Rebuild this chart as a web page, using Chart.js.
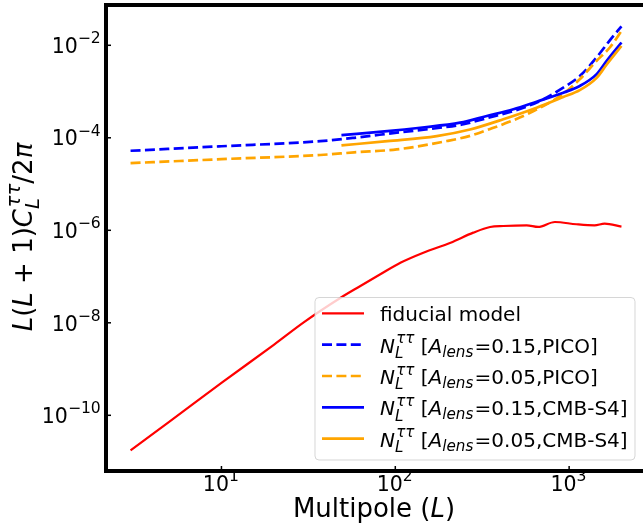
<!DOCTYPE html>
<html>
<head>
<meta charset="utf-8">
<script src="https://cdn.jsdelivr.net/npm/chart.js@4.4.0/dist/chart.umd.min.js"></script>
<style>
  html, body { margin: 0; padding: 0; overflow: hidden; background: #fff; }
  canvas { display: block; }
</style>
</head>
<body>
<canvas id="chart" width="650" height="528"></canvas>
<script>
// Values (multipole L, L(L+1)C_L/2pi)
const fidL = [3, 5, 10, 20, 30, 48, 63, 82, 107, 145, 208, 281, 351, 418, 570, 664, 828, 1100, 1400, 1600, 2000];
const fidVals = [1.75e-11, 7.2e-11, 5.0e-10, 3.35e-9, 1.05e-8, 3.4e-8, 6.25e-8, 1.12e-7, 1.99e-7, 3.28e-7,
  5.4e-7, 8.9e-7, 1.18e-6, 1.24e-6, 1.28e-6, 1.18e-6, 1.51e-6, 1.35e-6, 1.28e-6, 1.39e-6, 1.20e-6];

const picoL015 = [3, 10, 37, 58, 102, 181, 247, 336, 478, 679, 925, 1151, 1435, 1714, 2000];
const pico015 = [5.24e-5, 6.56e-5, 8.47e-5, 1.0e-4, 1.29e-4, 1.65e-4, 1.96e-4, 2.66e-4, 3.79e-4,
  6.24e-4, 1.21e-3, 2.16e-3, 5.40e-3, 1.28e-2, 2.57e-2];
const picoL005 = [3, 10, 37, 58, 102, 198, 269, 351, 457, 596, 925, 1151, 1435, 1714, 2000];
const pico005 = [2.83e-5, 3.45e-5, 4.25e-5, 4.84e-5, 5.61e-5, 8.51e-5, 1.10e-4, 1.55e-4, 2.24e-4,
  3.47e-4, 8.9e-4, 1.84e-3, 4.57e-3, 8.95e-3, 2.04e-2];

const s4L015 = [49, 90, 139, 236, 336, 478, 650, 925, 1151, 1435, 1641, 2000];
const s4015 = [1.14e-4, 1.39e-4, 1.65e-4, 2.12e-4, 2.96e-4, 4.13e-4, 6.04e-4, 9.44e-4, 1.32e-3, 2.35e-3, 4.57e-3, 1.15e-2];
const s4L005 = [49, 90, 173, 269, 418, 650, 925, 1151, 1435, 1641, 2000];
const s4005 = [6.84e-5, 8.47e-5, 1.09e-4, 1.51e-4, 2.51e-4, 4.46e-4, 7.59e-4, 1.07e-3, 1.95e-3, 3.80e-3, 9.66e-3];

// Decade ticks and their labels (base, exponent)
const xTicks = [10, 100, 1000];
const xTickLabels = [['10', '1'], ['10', '2'], ['10', '3']];
const yTicks = [1e-2, 1e-4, 1e-6, 1e-8, 1e-10];
const yTickLabels = [['10', '\u22122'], ['10', '\u22124'], ['10', '\u22126'], ['10', '\u22128'], ['10', '\u221210']];

const FONT = "'DejaVu Sans', sans-serif";
const DASH = [10, 4.4];
const SCRIPT = 0.76; // script size relative to base text

const pts = (xs, ys) => xs.map((x, i) => ({ x: x, y: ys[i] }));

// Label in matplotlib mathtext style: N_L^{tt} [A_lens=...]
const nLabel = (a, exp) => [
  { t: 'N', it: true }, { sup: '\u03c4\u03c4', sub: 'L', it: true },
  { t: ' [' }, { t: 'A', it: true }, { sub: 'lens', it: true },
  { t: '=' + a + ',' + exp + ']' }
];

const legendItems = [
  [{ t: 'fiducial model' }],
  nLabel('0.15', 'PICO'),
  nLabel('0.05', 'PICO'),
  nLabel('0.15', 'CMB-S4'),
  nLabel('0.05', 'CMB-S4')
];

function fontFor(size, italic) {
  return (italic ? 'italic ' : '') + size + 'px ' + FONT;
}

function partWidth(ctx, p, size) {
  if (p.t !== undefined) {
    ctx.font = fontFor(size, p.it);
    return ctx.measureText(p.t).width;
  }
  ctx.font = fontFor(size * SCRIPT, p.it);
  let w = 0;
  if (p.sup) w = Math.max(w, ctx.measureText(p.sup).width);
  if (p.sub) w = Math.max(w, ctx.measureText(p.sub).width);
  return w + size * 0.06;
}

function richWidth(ctx, parts, size) {
  return parts.reduce((w, p) => w + partWidth(ctx, p, size), 0);
}

function drawRich(ctx, parts, x, y, size, align) {
  let cx = x;
  if (align === 'center') cx -= richWidth(ctx, parts, size) / 2;
  if (align === 'right') cx -= richWidth(ctx, parts, size);
  ctx.textAlign = 'left';
  ctx.textBaseline = 'alphabetic';
  parts.forEach(p => {
    const w = partWidth(ctx, p, size);
    if (p.t !== undefined) {
      ctx.font = fontFor(size, p.it);
      ctx.fillText(p.t, cx, y);
    } else {
      ctx.font = fontFor(size * SCRIPT, p.it);
      if (p.sup) ctx.fillText(p.sup, cx + (p.it ? size * 0.06 : 0), y - size * 0.47);
      if (p.sub) ctx.fillText(p.sub, cx, y + size * (p.sup ? 0.26 : 0.2));
    }
    cx += w;
  });
}

// Frame, inward ticks, tick labels, axis titles and legend
const decorPlugin = {
  id: 'decor',
  afterDraw(chart) {
    const ctx = chart.ctx;
    const area = chart.chartArea;
    const xs = chart.scales.x;
    const ys = chart.scales.y;
    ctx.save();
    ctx.fillStyle = '#000';
    ctx.strokeStyle = '#000';

    // ticks
    ctx.lineWidth = 1.5;
    xTicks.forEach((v, i) => {
      const px = xs.getPixelForValue(v);
      ctx.beginPath();
      ctx.moveTo(px, area.bottom);
      ctx.lineTo(px, area.bottom - 5);
      ctx.stroke();
      drawRich(ctx, [{ t: xTickLabels[i][0] }, { sup: xTickLabels[i][1] }], px, area.bottom + 20, 20.5, 'center');
    });
    yTicks.forEach((v, i) => {
      const py = ys.getPixelForValue(v);
      ctx.beginPath();
      ctx.moveTo(area.left, py);
      ctx.lineTo(area.left + 5, py);
      ctx.stroke();
      drawRich(ctx, [{ t: yTickLabels[i][0] }, { sup: yTickLabels[i][1] }], area.left - 4, py + 7.7, 20.5, 'right');
    });

    // frame
    ctx.lineWidth = 4;
    ctx.strokeRect(area.left, area.top, area.right - area.left, area.bottom - area.top);

    // axis titles
    drawRich(ctx, [{ t: 'Multipole (' }, { t: 'L', it: true }, { t: ')' }],
      (area.left + area.right) / 2 - 2, 517, 26, 'center');
    ctx.save();
    ctx.translate(32, (area.top + area.bottom) / 2 - 1);
    ctx.rotate(-Math.PI / 2);
    drawRich(ctx, [
      { t: 'L', it: true }, { t: '(' }, { t: 'L', it: true }, { t: ' + 1)' },
      { t: 'C', it: true }, { sup: '\u03c4\u03c4', sub: 'L', it: true },
      { t: '/2' }, { t: '\u03c0', it: true }
    ], 0, 0, 26, 'center');
    ctx.restore();

    // legend
    const bx = 315, by = 297.5, bw = 320, bh = 162.5;
    ctx.beginPath();
    ctx.roundRect(bx, by, bw, bh, 4);
    ctx.fillStyle = 'rgba(255,255,255,0.8)';
    ctx.fill();
    ctx.lineWidth = 1;
    ctx.strokeStyle = 'rgba(204,204,204,0.8)';
    ctx.stroke();
    chart.data.datasets.forEach((ds, i) => {
      const cy = 313.3 + i * 31.35;
      ctx.beginPath();
      ctx.strokeStyle = ds.borderColor;
      ctx.lineWidth = ds.borderWidth;
      ctx.setLineDash(ds.borderDash || []);
      ctx.moveTo(322, cy);
      ctx.lineTo(364, cy);
      ctx.stroke();
      ctx.setLineDash([]);
      ctx.fillStyle = '#000';
      drawRich(ctx, legendItems[i], 380, cy + 8, 20, 'left');
    });
    ctx.restore();
  }
};

const lineBase = {
  pointRadius: 0,
  fill: false,
  cubicInterpolationMode: 'monotone'
};

const chart = new Chart(document.getElementById('chart'), {
  type: 'line',
  data: {
    datasets: [
      { ...lineBase, data: pts(fidL, fidVals), borderColor: '#ff0000', borderWidth: 2.2, order: 5 },
      { ...lineBase, data: pts(picoL015, pico015), borderColor: '#0000ff', borderWidth: 2.7, borderDash: DASH, order: 4 },
      { ...lineBase, data: pts(picoL005, pico005), borderColor: '#ffa500', borderWidth: 2.7, borderDash: DASH, order: 3 },
      { ...lineBase, data: pts(s4L015, s4015), borderColor: '#0000ff', borderWidth: 2.7, order: 2 },
      { ...lineBase, data: pts(s4L005, s4005), borderColor: '#ffa500', borderWidth: 2.7, order: 1 }
    ]
  },
  options: {
    responsive: false,
    animation: false,
    devicePixelRatio: 1,
    layout: { padding: { top: 5, right: 4, left: 0, bottom: 0 } },
    plugins: {
      legend: { display: false },
      tooltip: { enabled: false }
    },
    scales: {
      x: {
        type: 'logarithmic',
        min: 2.167,
        max: 2768,
        bounds: 'data',
        grid: { display: false },
        border: { display: false },
        ticks: { display: false },
        afterFit: (scale) => { scale.height = 57; }
      },
      y: {
        type: 'logarithmic',
        min: 6.25e-12,
        max: 0.0743,
        bounds: 'data',
        grid: { display: false },
        border: { display: false },
        ticks: { display: false },
        afterFit: (scale) => { scale.width = 106; }
      }
    }
  },
  plugins: [decorPlugin]
});
</script>
</body>
</html>
